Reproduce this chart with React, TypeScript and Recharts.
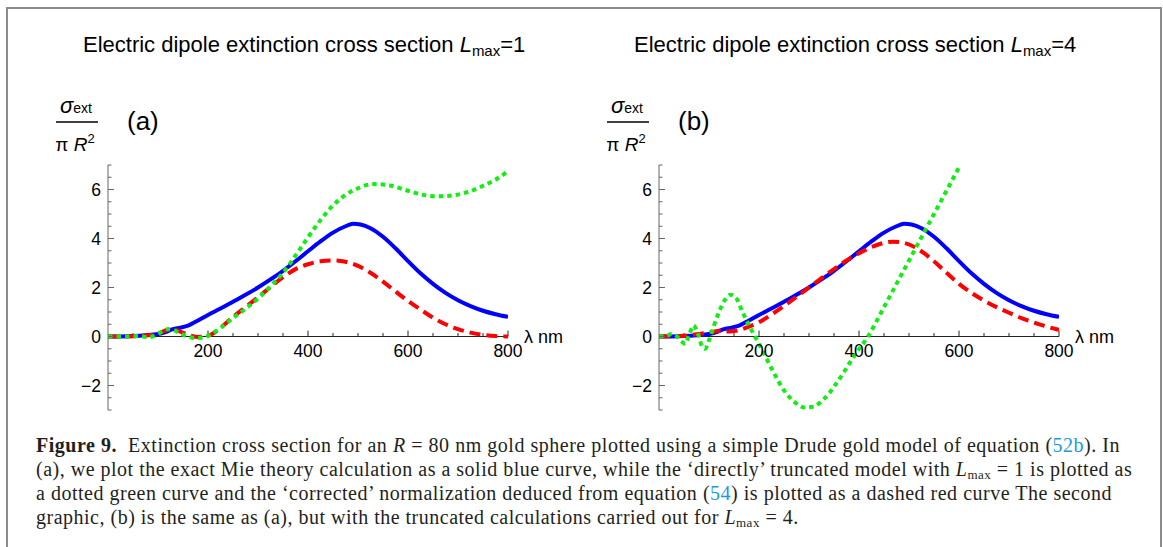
import React from 'react';
import { LineChart, Line, XAxis, YAxis, ReferenceLine } from 'recharts';

// sigma_ext / (pi R^2) against wavelength in nm
// exact Mie result (solid blue) - same curve in both panels
const exactNm = [0, 25, 50, 75, 100, 115, 130, 145, 160, 175, 200, 225, 250, 275, 300, 325, 350, 375, 400, 425, 450, 475, 490, 505, 525, 550, 575, 600, 625, 650, 675, 700, 725, 750, 775, 800];
const exactVal = [0, 0.005, 0.02, 0.05, 0.1, 0.18, 0.3, 0.36, 0.44, 0.6, 0.88, 1.14, 1.42, 1.7, 2.0, 2.33, 2.68, 3.07, 3.48, 3.88, 4.24, 4.5, 4.6, 4.57, 4.42, 4.07, 3.6, 3.08, 2.58, 2.15, 1.78, 1.48, 1.24, 1.05, 0.91, 0.8];

// (a) Lmax = 1
const corrected1Nm = [0, 50, 80, 100, 112, 124, 136, 150, 165, 180, 195, 210, 225, 250, 275, 300, 325, 350, 375, 400, 425, 452, 475, 500, 525, 550, 575, 600, 625, 650, 675, 700, 725, 750, 775, 800];
const corrected1Val = [0, 0.01, 0.05, 0.12, 0.22, 0.3, 0.27, 0.15, 0.04, -0.02, 0.0, 0.12, 0.35, 0.8, 1.2, 1.6, 2.02, 2.42, 2.75, 2.95, 3.07, 3.1, 3.05, 2.88, 2.6, 2.24, 1.84, 1.45, 1.1, 0.77, 0.5, 0.3, 0.16, 0.07, 0.02, 0];
const truncated1Nm = [0, 40, 60, 80, 95, 108, 120, 132, 145, 160, 175, 190, 205, 225, 250, 275, 300, 325, 350, 375, 400, 425, 450, 475, 500, 530, 560, 600, 630, 660, 690, 720, 750, 775, 800];
const truncated1Val = [0, 0.0, 0.02, -0.03, 0.05, 0.2, 0.3, 0.25, 0.12, 0.0, -0.06, -0.05, 0.08, 0.35, 0.76, 1.13, 1.55, 2.05, 2.6, 3.3, 4.05, 4.75, 5.35, 5.78, 6.05, 6.22, 6.18, 5.95, 5.78, 5.72, 5.76, 5.9, 6.15, 6.4, 6.75];

// (b) Lmax = 4
const corrected4Nm = [0, 50, 75, 100, 125, 140, 160, 180, 200, 225, 250, 275, 300, 325, 350, 375, 400, 425, 450, 468, 490, 510, 530, 550, 575, 600, 625, 650, 675, 700, 725, 750, 775, 800];
const corrected4Val = [0, 0.03, 0.09, 0.17, 0.24, 0.2, 0.26, 0.4, 0.58, 0.9, 1.25, 1.62, 2.0, 2.38, 2.75, 3.1, 3.4, 3.65, 3.82, 3.87, 3.82, 3.66, 3.4, 3.07, 2.6, 2.15, 1.78, 1.47, 1.2, 0.97, 0.75, 0.57, 0.41, 0.27];
const truncated4Nm = [0, 15, 25, 35, 45, 52, 60, 69, 78, 86, 92, 100, 110, 120, 132, 143, 155, 167, 180, 192, 210, 230, 250, 270, 292, 310, 330, 350, 370, 390, 418, 450, 500, 550, 600];
const truncated4Val = [0, 0.02, 0.1, 0.02, -0.2, -0.3, 0.05, 0.45, 0.1, -0.4, -0.5, -0.15, 0.45, 1.0, 1.5, 1.7, 1.55, 1.0, 0.45, 0.0, -0.7, -1.5, -2.2, -2.65, -2.9, -2.85, -2.55, -2.05, -1.45, -0.8, 0.0, 1.2, 3.1, 5.0, 6.9];

const xMajorTicks = [200, 400, 600, 800];
const xMinorTicks = [50, 100, 150, 250, 300, 350, 450, 500, 550, 650, 700, 750];
const yTicks = [-3, -2.5, -2, -1.5, -1, -0.5, 0, 0.5, 1, 1.5, 2, 2.5, 3, 3.5, 4, 4.5, 5, 5.5, 6, 6.5, 7];
const yLabelTicks = [-2, 0, 2, 4, 6];

const SANS = '"Liberation Sans", Arial, sans-serif';
const SERIF = '"Liberation Serif", "Times New Roman", serif';
const AXIS_GRAY = '#666';

const toPoints = (nm: number[], val: number[]) => nm.map((x, i) => ({ x, y: val[i] }));

const YTick = (props: any) => {
  const { x, y, payload } = props;
  const major = yLabelTicks.includes(payload.value);
  return (
    <g>
      <line x1={x} y1={y} x2={x + (major ? 6 : 3.5)} y2={y} stroke={AXIS_GRAY} strokeWidth={1} />
      {major && (
        <text x={x - 7} y={y} dy="0.36em" textAnchor="end" fontSize={17.5} fontFamily={SANS} fill="#000">
          {payload.value < 0 ? '\u2212' + Math.abs(payload.value) : payload.value}
        </text>
      )}
    </g>
  );
};

interface PanelProps {
  left: number;
  corrected: { x: number; y: number }[];
  truncated: { x: number; y: number }[];
}

const Panel = ({ left, corrected, truncated }: PanelProps) => (
  <div style={{ position: 'absolute', left, top: 0 }}>
    <LineChart width={600} height={430} margin={{ top: 165, right: 92, bottom: 20, left: 68 }}>
      <XAxis type="number" dataKey="x" domain={[0, 800]} allowDataOverflow hide />
      <YAxis
        type="number"
        domain={[-3, 7]}
        ticks={yTicks}
        interval={0}
        allowDataOverflow
        width={40}
        tickSize={0}
        tickMargin={0}
        tickLine={false}
        axisLine={{ stroke: AXIS_GRAY, strokeWidth: 1 }}
        tick={<YTick />}
      />
      <ReferenceLine
        y={0}
        stroke="#222"
        strokeWidth={1}
        label={{ value: '\u03bb nm', position: 'right', offset: 16, fontSize: 18, fontFamily: SANS, fill: '#000' }}
      />
      {xMinorTicks.map((t) => (
        <ReferenceLine key={'m' + t} segment={[{ x: t, y: 0 }, { x: t, y: 0.14 }]} stroke="#222" strokeWidth={1} />
      ))}
      {xMajorTicks.map((t) => (
        <ReferenceLine
          key={'M' + t}
          segment={[{ x: t, y: 0 }, { x: t, y: 0.24 }]}
          stroke="#222"
          strokeWidth={1}
          label={{ value: String(t), position: 'bottom', offset: 8, fontSize: 17.5, fontFamily: SANS, fill: '#000' }}
        />
      ))}
      <Line data={toPoints(exactNm, exactVal)} dataKey="y" type="monotone" stroke="#0000ff" strokeWidth={4} dot={false} isAnimationActive={false} />
      <Line data={corrected} dataKey="y" type="monotone" stroke="#ff0000" strokeWidth={4} strokeDasharray="11 6" dot={false} isAnimationActive={false} />
      <Line data={truncated} dataKey="y" type="monotone" stroke="#11ee11" strokeWidth={4} strokeDasharray="4.5 4" dot={false} isAnimationActive={false} />
    </LineChart>
  </div>
);

const Labels = ({ dx, lmax, tag }: { dx: number; lmax: string; tag: string }) => (
  <g fontFamily={SANS} fill="#000">
    <text x={83 + dx} y={52} fontSize={22}>
      Electric dipole extinction cross section <tspan fontStyle="italic">L</tspan>
      <tspan fontSize={15} dy={4}>max</tspan>
      <tspan dy={-4}>={lmax}</tspan>
    </text>
    <text x={76 + dx} y={113} textAnchor="middle">
      <tspan fontSize={22} fontStyle="italic">σ</tspan>
      <tspan fontSize={14}>ext</tspan>
    </text>
    <line x1={56 + dx} x2={98 + dx} y1={122} y2={122} stroke="#000" strokeWidth={1.3} />
    <text x={75 + dx} y={151} textAnchor="middle">
      <tspan fontSize={19}>π </tspan>
      <tspan fontSize={19} fontStyle="italic">R</tspan>
      <tspan fontSize={13} dy={-8}>2</tspan>
    </text>
    <text x={127 + dx} y={130} fontSize={26}>{tag}</text>
  </g>
);

const blue = { color: '#1a9bd7' };
const sub = { fontSize: 13, verticalAlign: -3, lineHeight: 0 };
const justified = { textAlign: 'justify' as const, textAlignLast: 'justify' as const, whiteSpace: 'nowrap' as const, height: 24 };

export default function App() {
  return (
    <div style={{ position: 'relative', width: 1163, height: 547, background: '#fff', overflow: 'hidden' }}>
      <style>{'body{margin:0}'}</style>
      <div style={{ position: 'absolute', left: 6, top: 7, width: 1152, height: 600, border: '2px solid #8c8c8c' }} />
      <Panel left={0} corrected={toPoints(corrected1Nm, corrected1Val)} truncated={toPoints(truncated1Nm, truncated1Val)} />
      <Panel left={551} corrected={toPoints(corrected4Nm, corrected4Val)} truncated={toPoints(truncated4Nm, truncated4Val)} />
      <svg width={1163} height={547} style={{ position: 'absolute', left: 0, top: 0, pointerEvents: 'none' }}>
        <Labels dx={0} lmax="1" tag="(a)" />
        <Labels dx={551} lmax="4" tag="(b)" />
      </svg>
      <div style={{ position: 'absolute', left: 36, top: 433, fontFamily: SERIF, fontSize: 20, letterSpacing: 0.5, lineHeight: '24px', color: '#231f20' }}>
        <div style={{ width: 1084, ...justified }}>
          <b>Figure 9.</b>&nbsp; Extinction cross section for an <i>R</i> = 80 nm gold sphere plotted using a simple Drude gold model of equation (<span style={blue}>52b</span>). In
        </div>
        <div style={{ width: 1091, ...justified }}>
          (a), we plot the exact Mie theory calculation as a solid blue curve, while the ‘directly’ truncated model with <i>L</i><sub style={sub}>max</sub> = 1 is plotted as
        </div>
        <div style={{ width: 1076, ...justified }}>
          a dotted green curve and the ‘corrected’ normalization deduced from equation (<span style={blue}>54</span>) is plotted as a dashed red curve The second
        </div>
        <div style={{ whiteSpace: 'nowrap', height: 24 }}>
          graphic, (b) is the same as (a), but with the truncated calculations carried out for <i>L</i><sub style={sub}>max</sub> = 4.
        </div>
      </div>
    </div>
  );
}
